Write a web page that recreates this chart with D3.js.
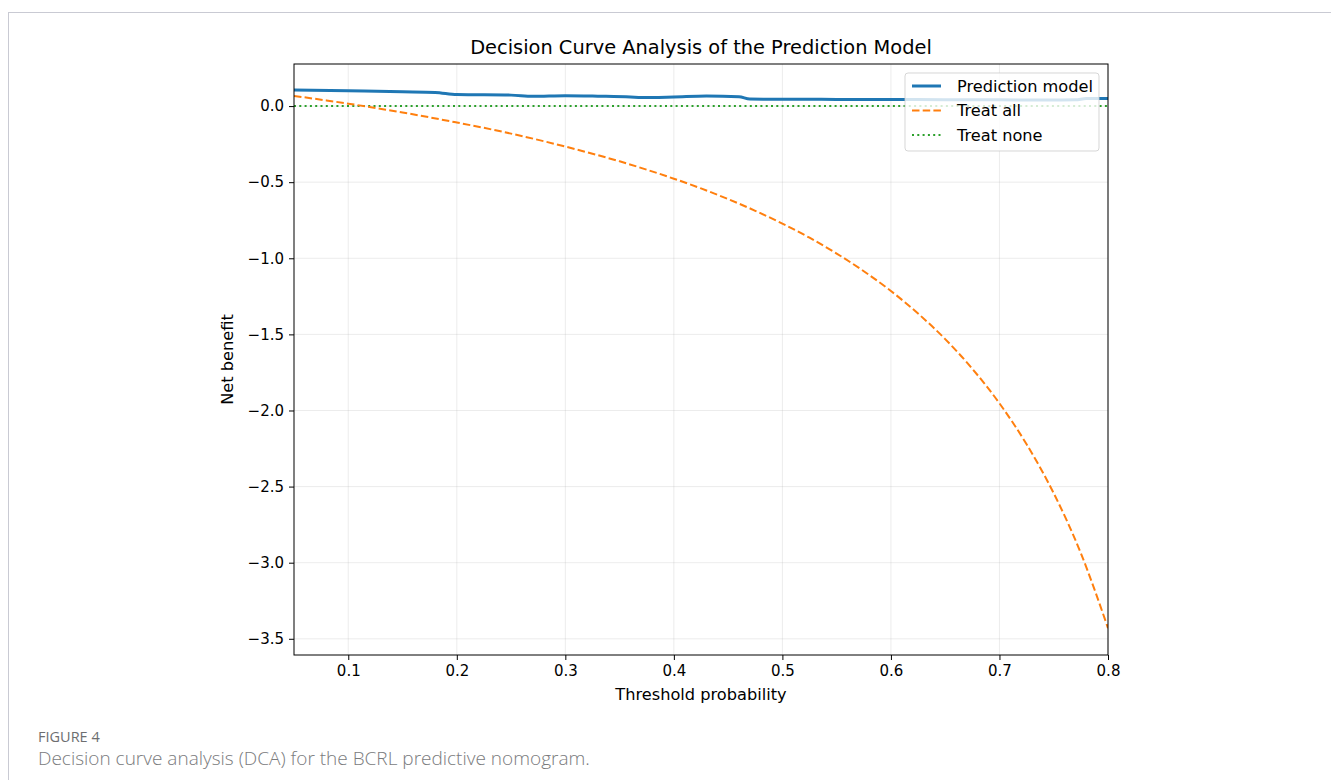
<!DOCTYPE html>
<html>
<head>
<meta charset="utf-8">
<script src="https://cdn.jsdelivr.net/npm/d3@7/dist/d3.min.js"></script>
<style>
  body { margin: 0; background: #fff; }
  svg { display: block; }
</style>
</head>
<body>
<svg id="chart"></svg>
<script>
// threshold probabilities and net benefit
const modelThresholds = [0.05, 0.10, 0.15, 0.18, 0.20, 0.25, 0.27, 0.30, 0.33, 0.36, 0.37, 0.40, 0.43, 0.46, 0.47, 0.50, 0.55, 0.60, 0.65, 0.70, 0.75, 0.77, 0.78, 0.80];
const modelBenefit    = [0.105, 0.100, 0.094, 0.090, 0.076, 0.072, 0.064, 0.068, 0.065, 0.060, 0.056, 0.060, 0.066, 0.062, 0.046, 0.045, 0.044, 0.043, 0.042, 0.041, 0.040, 0.041, 0.050, 0.050];

const allThresholds = [0.05, 0.075, 0.10, 0.125, 0.15, 0.175, 0.20, 0.225, 0.25, 0.275, 0.30, 0.325, 0.35, 0.375, 0.40, 0.425, 0.45, 0.475, 0.50, 0.525, 0.55, 0.575, 0.60, 0.625, 0.65, 0.675, 0.70, 0.725, 0.75, 0.775, 0.80];
const allBenefit    = [0.067, 0.042, 0.016, -0.013, -0.042, -0.074, -0.108, -0.143, -0.181, -0.222, -0.266, -0.313, -0.363, -0.418, -0.477, -0.541, -0.611, -0.688, -0.772, -0.865, -0.969, -1.085, -1.215, -1.363, -1.531, -1.726, -1.953, -2.222, -2.544, -2.938, -3.430];

const noneThresholds = [0.05, 0.80];
const noneBenefit    = [0, 0];

const xTicks = [0.1, 0.2, 0.3, 0.4, 0.5, 0.6, 0.7, 0.8];
const yTicks = [0.0, -0.5, -1.0, -1.5, -2.0, -2.5, -3.0, -3.5];

const W = 1331, H = 780;
const margin = { top: 64, right: 223, bottom: 125, left: 294 };
const width = W - margin.left - margin.right;
const height = H - margin.top - margin.bottom;
const font = "'DejaVu Sans', sans-serif";

let svg = d3.select("#chart").attr("width", W).attr("height", H);

// outer figure frame
svg.append("rect")
    .attr("x", 8.5).attr("y", 12.5)
    .attr("width", W).attr("height", H)
    .attr("fill", "none")
    .attr("stroke", "#c9cad3");

let x = d3.scaleLinear().domain([0.05, 0.8]).range([0, width]);
let y = d3.scaleLinear().domain([-3.6065, 0.2765]).range([height, 0]);

let g = svg.append("g").attr("transform", "translate(" + margin.left + "," + margin.top + ")");

// grid
g.append("g").selectAll("line").data(xTicks).enter().append("line")
    .attr("x1", x).attr("x2", x).attr("y1", 0).attr("y2", height)
    .attr("stroke", "#b0b0b0").attr("stroke-opacity", 0.3).attr("stroke-width", 0.8);
g.append("g").selectAll("line").data(yTicks).enter().append("line")
    .attr("y1", y).attr("y2", y).attr("x1", 0).attr("x2", width)
    .attr("stroke", "#b0b0b0").attr("stroke-opacity", 0.3).attr("stroke-width", 0.8);

g.append("clipPath").attr("id", "clip").append("rect")
    .attr("width", width).attr("height", height);

let line = d3.line()
    .x(function(d) { return x(d[0]); })
    .y(function(d) { return y(d[1]); });

let lines = g.append("g").attr("clip-path", "url(#clip)");

lines.append("path")
    .datum(d3.zip(noneThresholds, noneBenefit))
    .attr("d", line)
    .attr("fill", "none").attr("stroke", "#2ca02c").attr("stroke-width", 2)
    .attr("stroke-dasharray", "2,3.3");

lines.append("path")
    .datum(d3.zip(allThresholds, allBenefit))
    .attr("d", line.curve(d3.curveMonotoneX))
    .attr("fill", "none").attr("stroke", "#ff7f0e").attr("stroke-width", 2)
    .attr("stroke-dasharray", "7.5,3.2");

lines.append("path")
    .datum(d3.zip(modelThresholds, modelBenefit))
    .attr("d", line.curve(d3.curveMonotoneX))
    .attr("fill", "none").attr("stroke", "#1f77b4").attr("stroke-width", 3);

// axes
let xAxis = g.append("g").attr("transform", "translate(0," + height + ")")
    .call(d3.axisBottom(x).tickValues(xTicks).tickFormat(d3.format(".1f")).tickSize(5).tickPadding(5));
let yAxis = g.append("g")
    .call(d3.axisLeft(y).tickValues(yTicks).tickFormat(function(d) { return d3.format(".1f")(d).replace("-", "\u2212"); }).tickSize(5).tickPadding(5));
[xAxis, yAxis].forEach(function(a) {
    a.select(".domain").remove();
    a.selectAll("text").attr("font-family", font).attr("font-size", 15).attr("fill", "#000");
    a.selectAll("line").attr("stroke", "#000");
});

// spines
g.append("rect").attr("width", width).attr("height", height)
    .attr("fill", "none").attr("stroke", "#000").attr("stroke-width", 1);

// title and labels
svg.append("text")
    .attr("x", margin.left + width / 2).attr("y", 54)
    .attr("text-anchor", "middle")
    .attr("font-family", font).attr("font-size", 19.4)
    .text("Decision Curve Analysis of the Prediction Model");

svg.append("text")
    .attr("x", margin.left + width / 2).attr("y", 700)
    .attr("text-anchor", "middle")
    .attr("font-family", font).attr("font-size", 16.2)
    .text("Threshold probability");

svg.append("text")
    .attr("transform", "translate(233," + (margin.top + height / 2) + ")rotate(-90)")
    .attr("text-anchor", "middle")
    .attr("font-family", font).attr("font-size", 16.2)
    .text("Net benefit");

// legend
const legendNames = ["Prediction model", "Treat all", "Treat none"];
const legendColors = ["#1f77b4", "#ff7f0e", "#2ca02c"];
const legendDash = [null, "7.5,3.2", "2,3.3"];
const legendWidth = [3, 2, 2];

let legend = svg.append("g").attr("transform", "translate(905,73)");
legend.append("rect")
    .attr("width", 194).attr("height", 78).attr("rx", 3)
    .attr("fill", "#fff").attr("fill-opacity", 0.8)
    .attr("stroke", "#cccccc").attr("stroke-opacity", 0.8);

let item = legend.selectAll("g.item").data(legendNames).enter().append("g")
    .attr("class", "item")
    .attr("transform", function(d, i) { return "translate(0," + (13 + i * 24.5) + ")"; });
item.append("line")
    .attr("x1", 7).attr("x2", 36)
    .attr("stroke", function(d, i) { return legendColors[i]; })
    .attr("stroke-width", function(d, i) { return legendWidth[i]; })
    .attr("stroke-dasharray", function(d, i) { return legendDash[i]; });
item.append("text")
    .attr("x", 52).attr("dy", "0.35em")
    .attr("font-family", font).attr("font-size", 16.2)
    .text(function(d) { return d; });

// caption
svg.append("text")
    .attr("x", 38).attr("y", 742)
    .attr("font-family", "'Open Sans', sans-serif").attr("font-size", 14.5)
    .attr("fill", "#6d6e70")
    .text("FIGURE 4");
svg.append("text")
    .attr("x", 38).attr("y", 765)
    .attr("font-family", "'Open Sans', sans-serif").attr("font-size", 19)
    .attr("font-weight", 300)
    .attr("fill", "#7a7b7d")
    .text("Decision curve analysis (DCA) for the BCRL predictive nomogram.");
</script>
</body>
</html>
